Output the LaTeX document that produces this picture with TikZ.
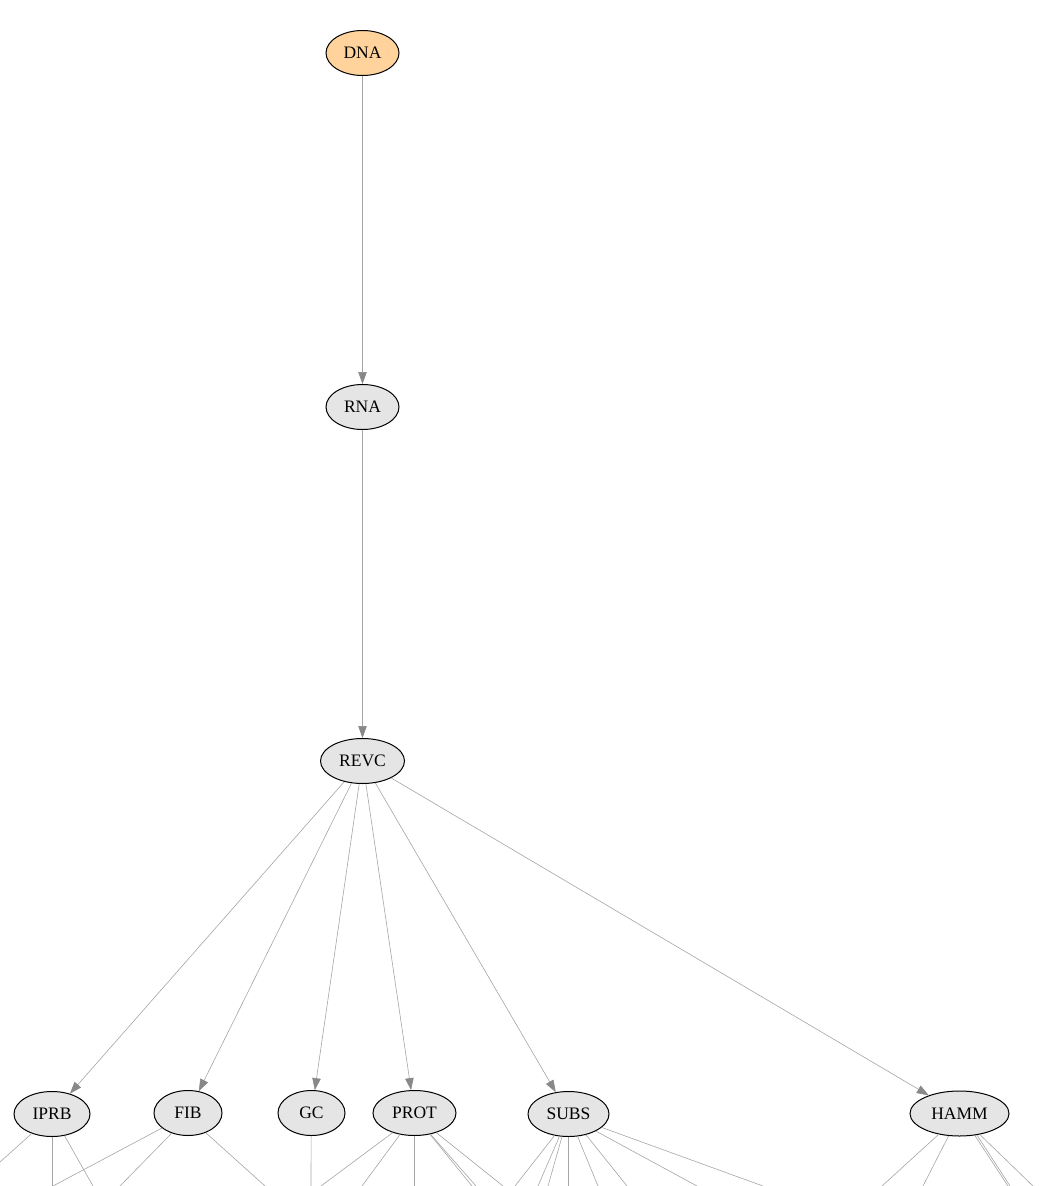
\documentclass[tikz,border=0pt]{standalone}
\usepackage{fontspec}
\setmainfont{Liberation Serif}
\usetikzlibrary{shapes.geometric,arrows.meta}
\definecolor{dnafill}{RGB}{255,211,155}
\definecolor{taskfill}{RGB}{229,229,229}
\definecolor{edgegray}{RGB}{165,165,165}
\definecolor{tipgray}{RGB}{136,136,136}
% edges leaving a node to the lower edge: angle/x/y
\newcommand{\fan}[2]{\foreach \a/\x/\y [count=\i] in {#2}{
    \coordinate (#1\i) at (\x,\y);
    \draw[edge] (#1.\a) -- (#1\i);}}

\begin{document}
\begin{tikzpicture}[x=1pt,y=-1pt,
    task/.style={ellipse,draw=black,line width=1pt,fill=taskfill,inner sep=0pt,
      minimum height=45pt,font=\fontsize{17.5}{21}\selectfont},
    edge/.style={draw=edgegray,line width=.6pt},
    dep/.style={edge,-{Triangle[length=12pt,width=8.5pt,color=tipgray]}}]
  \useasboundingbox (0,0) rectangle (1044,1186);
  \node[task,fill=dnafill,minimum width=73pt] (dna) at (362.5,53) {DNA};
  \node[task,minimum width=73pt] (rna) at (362.5,407) {RNA};
  \node[task,minimum width=84pt] (revc) at (362.5,761) {REVC};
  \node[task,minimum width=76pt] (iprb) at (52,1114) {IPRB};
  \node[task,minimum width=68pt] (fib) at (188,1113) {FIB};
  \node[task,minimum width=67pt] (gc) at (311.5,1113) {GC};
  \node[task,minimum width=83pt] (prot) at (414.5,1113) {PROT};
  \node[task,minimum width=81pt] (subs) at (568.5,1114) {SUBS};
  \node[task,minimum width=99pt] (hamm) at (959.5,1113.5) {HAMM};
  \draw[dep] (dna) -- (rna);
  \draw[dep] (rna) -- (revc);
  \foreach \t in {iprb,fib,gc,prot,subs,hamm}
    \draw[dep] (revc) -- (\t);
  % children below the cut
  \fan{iprb}{-136/0/1162, -90/52/1186, -60/93/1186}
  \fan{fib}{-150/53/1186, -129/120/1186, -48/265/1186}
  \fan{gc}{-91/311/1186}
  \fan{prot}{-138/321/1186, -124/362/1186, -90/414.5/1186, -54/472/1186, -53/476/1186, -42/503/1186}
  \fan{subs}{-123/515/1186, -112/538/1186, -106/548/1186, -90/568.5/1186, -68/598/1186, -50/627/1186, -32/697/1186, -22/763/1186}
  \fan{hamm}{-135/882/1186, -116/923/1186, -55/1008/1186, -51/1010/1186, -46/1033/1186}
\end{tikzpicture}
\end{document}
